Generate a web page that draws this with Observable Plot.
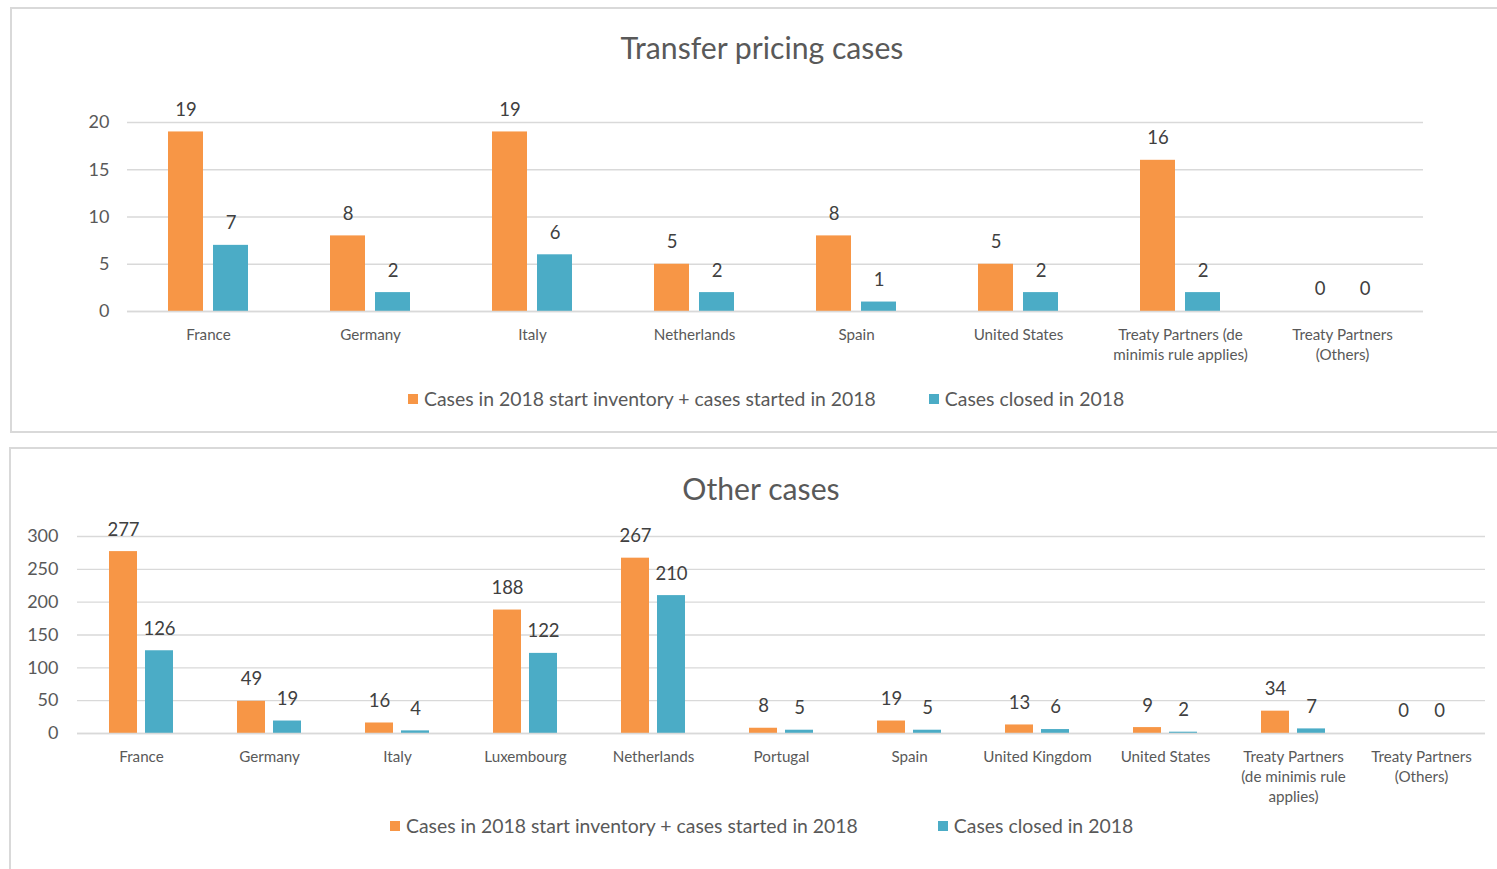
<!DOCTYPE html>
<html>
<head>
<meta charset="utf-8">
<script src="https://cdn.jsdelivr.net/npm/d3@7"></script>
<script src="https://cdn.jsdelivr.net/npm/@observablehq/plot@0.6"></script>
<style>
  html, body { margin: 0; padding: 0; background: #fff; width: 1497px; height: 869px; overflow: hidden; font-family: Lato, "Open Sans", sans-serif; }
  .box { position: absolute; border: 2px solid #d9d9d9; box-sizing: border-box; background: #fff; }
  .title { position: absolute; left: 0; width: 1504px; text-align: center; color: #595959; font-size: 30.2px; line-height: 1; }
  .chart { position: absolute; left: 0; }
  .legend { position: absolute; display: flex; justify-content: flex-start; color: #595959; font-size: 19.4px; line-height: 1; white-space: nowrap; }
  .legend span.item { display: inline-flex; align-items: center; }
  .legend span.sw { display: inline-block; width: 10px; height: 10px; margin-right: 6px; }
</style>
</head>
<body>
<div class="box" style="left:10px; top:7px; width:1510px; height:426px;"></div>
<div class="box" style="left:9px; top:447px; width:1510px; height:440px;"></div>
<div class="title" style="left:10px; top:32px;">Transfer pricing cases</div>
<div id="c1" class="chart" style="top:80px;"></div>
<div id="l1" class="legend" style="top:389px; left:408px; gap:53px;"></div>
<div class="title" style="left:9px; top:473px;">Other cases</div>
<div id="c2" class="chart" style="top:500px;"></div>
<div id="l2" class="legend" style="top:816px; left:390px; gap:80px;"></div>
<script>
const series = ["Cases in 2018 start inventory + cases started in 2018", "Cases closed in 2018"];
const colors = ["#F79646", "#4BACC6"];

// Transfer pricing cases
const tpCategories = ["France", "Germany", "Italy", "Netherlands", "Spain", "United States", "Treaty Partners (de minimis rule applies)", "Treaty Partners (Others)"];
const tpLabels = ["France", "Germany", "Italy", "Netherlands", "Spain", "United States", "Treaty Partners (de\nminimis rule applies)", "Treaty Partners\n(Others)"];
const tpStarted = [19, 8, 19, 5, 8, 5, 16, 0];
const tpClosed = [7, 2, 6, 2, 1, 2, 2, 0];
const tpTicks = [0, 5, 10, 15, 20];

// Other cases
const ocCategories = ["France", "Germany", "Italy", "Luxembourg", "Netherlands", "Portugal", "Spain", "United Kingdom", "United States", "Treaty Partners (de minimis rule applies)", "Treaty Partners (Others)"];
const ocLabels = ["France", "Germany", "Italy", "Luxembourg", "Netherlands", "Portugal", "Spain", "United Kingdom", "United States", "Treaty Partners\n(de minimis rule\napplies)", "Treaty Partners\n(Others)"];
const ocStarted = [277, 49, 16, 188, 267, 8, 19, 13, 9, 34, 0];
const ocClosed = [126, 19, 4, 122, 210, 5, 5, 6, 2, 7, 0];
const ocTicks = [0, 50, 100, 150, 200, 250, 300];

function rows(cats, a, b) {
  const out = [];
  cats.forEach((c, i) => {
    out.push({cat: c, series: series[0], value: a[i]});
    out.push({cat: c, series: series[1], value: b[i]});
  });
  return out;
}

function chart(opts) {
  const data = rows(opts.cats, opts.a, opts.b);
  const labelMap = new Map(opts.cats.map((c, i) => [c, opts.labels[i]]));
  return Plot.plot({
    width: 1497,
    height: opts.height,
    marginLeft: opts.ml,
    marginRight: opts.mr,
    marginTop: opts.mt,
    marginBottom: opts.mb,
    style: {fontFamily: "Lato, 'Open Sans', sans-serif", color: "#595959", background: "transparent", overflow: "visible"},
    fx: {domain: opts.cats, padding: 0, axis: null, label: null},
    x: {domain: series, axis: null, paddingInner: opts.pi, paddingOuter: opts.po},
    y: {domain: opts.ydom, axis: null, label: null},
    color: {domain: series, range: colors},
    marks: [
      Plot.gridY(opts.ticks, {stroke: "#d9d9d9", strokeOpacity: 1, strokeWidth: 1.3}),
      Plot.barY(data, {fx: "cat", x: "series", y: "value", fill: "series"}),
      Plot.ruleY([0], {stroke: "#d9d9d9", strokeWidth: 1.5}),
      Plot.text(data, {fx: "cat", x: "series", y: "value", text: d => String(d.value), dy: -22, fontSize: 18.5, fill: "#404040", lineAnchor: "middle"}),
      Plot.axisY({ticks: opts.ticks, tickSize: 0, tickPadding: opts.ytp, fontSize: 18, fill: "#595959", label: null}),
      Plot.axisFx({anchor: "bottom", label: null, tickSize: 0, tickPadding: opts.xtp, fontSize: 15.2, lineHeight: 1.32, fill: "#595959", tickFormat: c => labelMap.get(c)})
    ]
  });
}

function legend(el) {
  el.innerHTML = series.map((s, i) => `<span class="item"><span class="sw" style="background:${colors[i]}"></span>${s}</span>`).join("");
}

document.getElementById("c1").append(chart({
  cats: tpCategories, labels: tpLabels, a: tpStarted, b: tpClosed, ticks: tpTicks, ydom: [0, 20],
  height: 291, ml: 124, mr: 71, mt: 42, mb: 60, pi: 0.217, po: 0.876, ytp: 18, xtp: 14
}));
document.getElementById("c2").append(chart({
  cats: ocCategories, labels: ocLabels, a: ocStarted, b: ocClosed, ticks: ocTicks, ydom: [0, 300],
  height: 308, ml: 76, mr: 11, mt: 36, mb: 75, pi: 0.216, po: 0.84, ytp: 19, xtp: 14
}));
legend(document.getElementById("l1"));
legend(document.getElementById("l2"));
</script>
</body>
</html>
